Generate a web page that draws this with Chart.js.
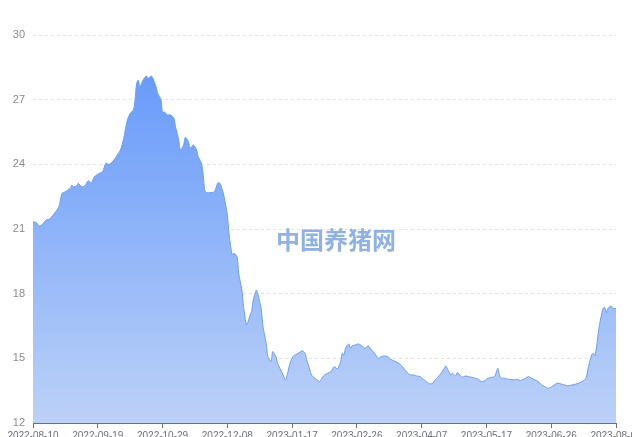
<!DOCTYPE html>
<html>
<head>
<meta charset="utf-8">
<script src="https://cdn.jsdelivr.net/npm/chart.js@4"></script>
<style>
html,body{margin:0;padding:0;overflow:hidden;background:#fff;}
#wrap{position:absolute;left:0;top:0;width:650px;height:448px;}
</style>
</head>
<body>
<div id="wrap"><canvas id="c"></canvas></div>
<script>
// day offsets from 2022-08-10
const days = [0,2,4,6,8,10,14,16,18,20,23,24,25,27,28,30,32,34,36,38,41,43,45,47,50,52,54,56,58,60,62,63,64,65,66,68,70,71,73,74,76,77,79,80,81,83,85,87,88,90,91,93,94,96,97,99,101,102,104,105,106,107,110,112,114,115,116,118,120,121,123,124,126,127,129,130,132,134,135,136,138,139,141,142,144,145,147,148,150,151,154,156,157,159,161,163,165,166,168,169,171,172,174,176,177,179,180,182,184,186,188,190,191,192,193,195,196,197,199,201,203,205,207,209,211,213,215,217,219,221,224,226,227,229,231,233,235,237,239,241,243,245,247,248,250,252,254,255,256,258,259,261,262,264,265,267,269,271,273,275,277,279,281,283,285,287,288,289,291,293,295,297,299,301,303,305,306,308,310,312,314,316,318,320,322,324,326,328,330,333,335,337,339,341,342,343,345,346,347,348,349,350,351,352,353,354,355,357,358,360];
const prices = [21.34,21.30,21.14,21.23,21.42,21.45,21.8,22.04,22.66,22.73,22.89,23.04,22.96,23.0,23.12,22.96,23.0,23.24,23.15,23.43,23.59,23.66,24.05,24.0,24.2,24.43,24.67,25.2,25.98,26.37,26.52,26.99,27.76,27.91,27.6,27.91,28.1,27.99,28.1,28.0,27.6,27.3,27.0,26.37,26.44,26.29,26.29,26.14,25.75,25.13,24.67,24.9,25.25,25.05,24.74,24.9,24.67,24.36,24.05,23.59,22.81,22.69,22.69,22.73,23.12,23.15,23.04,22.5,21.65,20.8,19.8,19.87,19.72,18.95,18.17,17.4,16.55,17.01,17.17,17.71,18.17,17.94,17.24,16.47,15.7,15.08,14.85,15.31,15.08,14.77,14.31,14.0,14.23,14.85,15.12,15.2,15.29,15.36,15.24,14.93,14.46,14.23,14.08,13.97,13.92,14.15,14.23,14.31,14.39,14.62,14.5,14.85,15.24,15.16,15.47,15.67,15.47,15.58,15.62,15.67,15.58,15.47,15.58,15.39,15.24,15.0,15.08,15.11,15.08,14.95,14.85,14.77,14.69,14.54,14.34,14.23,14.23,14.18,14.15,14.03,13.92,13.81,13.85,13.97,14.12,14.31,14.54,14.65,14.5,14.23,14.31,14.18,14.34,14.18,14.12,14.18,14.15,14.12,14.08,14.03,13.92,13.97,14.08,14.12,14.15,14.54,14.23,14.08,14.08,14.03,14.03,14.0,14.03,13.97,14.03,14.12,14.15,14.08,14.0,13.92,13.77,13.69,13.61,13.66,13.77,13.85,13.81,13.77,13.72,13.77,13.8,13.85,13.92,14.03,14.23,14.62,15.16,15.24,15.11,15.54,16.16,16.63,17.01,17.32,17.37,17.12,17.32,17.43,17.32,17.32];
const tickLabels = ['2022-08-10','2022-09-19','2022-10-29','2022-12-08','2023-01-17','2023-02-26','2023-04-07','2023-05-17','2023-06-26','2023-08-05'];
const yTicks = [12,15,18,21,24,27,30];
const watermark = '中国养猪网';

const points = days.map((d,i)=>({x:d,y:prices[i]}));
const xFont = {family:'"Liberation Sans",Arial,sans-serif', size:10};
const yFont = {family:'"Liberation Sans",Arial,sans-serif', size:11};

const watermarkPlugin = {
  id:'wm',
  afterDatasetsDraw(chart){
    const {ctx} = chart;
    ctx.save();
    ctx.font = 'bold 24px "Noto Sans CJK SC", sans-serif';
    ctx.fillStyle = 'rgba(141,177,232,1)';
    ctx.textAlign = 'center';
    ctx.textBaseline = 'middle';
    ctx.fillText(watermark, 336, 240);
    ctx.restore();
  }
};

new Chart(document.getElementById('c'), {
  type:'line',
  data:{datasets:[{
    data:points,
    borderColor:'#6a9ff0',
    borderWidth:1,
    pointRadius:0,
    tension:0.25,
    fill:'origin',
    backgroundColor(ctx){
      const ca = ctx.chart.chartArea;
      if(!ca) return 'rgba(110,160,250,0.8)';
      const g = ctx.chart.ctx.createLinearGradient(0, ca.top+40, 0, ca.bottom);
      g.addColorStop(0,'rgb(104,155,250)');
      g.addColorStop(1,'rgb(188,209,247)');
      return g;
    }
  }]},
  options:{
    responsive:true,
    maintainAspectRatio:false,
    animation:false,
    layout:{padding:{top:35,right:34,left:0,bottom:0}},
    plugins:{legend:{display:false},tooltip:{enabled:false}},
    scales:{
      x:{
        type:'linear',
        min:0,max:360,
        afterFit(s){ s.height = 25; },
        ticks:{
          stepSize:40,
          autoSkip:false,
          maxRotation:0,
          padding:2,
          color:'#6e7079',
          font:xFont,
          callback(v){ const i=Math.round(v/40); return (v%40===0 && tickLabels[i])?tickLabels[i]:''; }
        },
        grid:{drawOnChartArea:false,drawTicks:true,tickLength:5,color:'#6e7079'},
        border:{display:true,color:'#6e7079'}
      },
      y:{
        min:12,max:30,
        afterFit(s){ s.width = 33; },
        afterBuildTicks(s){ s.ticks = yTicks.map(v=>({value:v})); },
        ticks:{color:'#8a8a8a',font:yFont,padding:8},
        grid:{color:'#e3e3e3',drawTicks:false},
        border:{display:false,dash:[3,3]}
      }
    }
  },
  plugins:[watermarkPlugin]
});
</script>
</body>
</html>
